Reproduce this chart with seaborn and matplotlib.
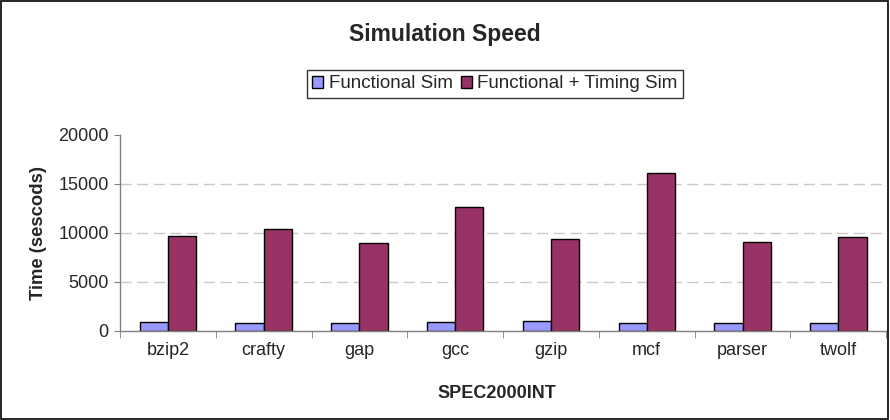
import matplotlib
matplotlib.use('Agg')
import matplotlib.pyplot as plt
from matplotlib.patches import Rectangle
import pandas as pd
import seaborn as sns

benchmarks = ['bzip2', 'crafty', 'gap', 'gcc', 'gzip', 'mcf', 'parser', 'twolf']
functional_sim = [920, 790, 790, 920, 1060, 790, 790, 790]
timing_sim = [9660, 10410, 8950, 12620, 9390, 16060, 9080, 9530]
series_names = ['Functional Sim', 'Functional + Timing Sim']
y_ticks = [0, 5000, 10000, 15000, 20000]
colors = ['#9999FF', '#993366']

df = pd.DataFrame({
    'bench': benchmarks * 2,
    'time': functional_sim + timing_sim,
    'series': [series_names[0]] * len(benchmarks) + [series_names[1]] * len(benchmarks),
})

sns.set_style('white')
plt.rcParams['font.family'] = ['Liberation Sans', 'DejaVu Sans']

fig = plt.figure(figsize=(8.9, 4.2), dpi=100)
ax = fig.add_axes([0.1348, 0.212, 0.861, 0.467])

sns.barplot(data=df, x='bench', y='time', hue='series', order=benchmarks,
            hue_order=series_names, palette=colors, saturation=1,
            width=0.59, gap=0, edgecolor='black', linewidth=1, ax=ax,
            errorbar=None, legend=False)

ax.set_ylim(0, 20000)
ax.set_xlim(-0.5, len(benchmarks) - 0.5)
ax.set_yticks(y_ticks)
ax.set_yticklabels([str(v) for v in y_ticks], fontsize=13)
ax.set_xticks(range(len(benchmarks)))
ax.set_xticklabels(benchmarks, fontsize=13)
ax.set_xticks([i - 0.5 for i in range(len(benchmarks) + 1)], minor=True)
ax.tick_params(axis='x', which='major', length=0, pad=8)
ax.tick_params(axis='x', which='minor', length=5, color='#808080', direction='out', bottom=True)
ax.tick_params(axis='y', length=4, color='#808080', direction='out', left=True, pad=4)

# dashed gridlines, only the inner ones
for v in y_ticks[1:4]:
    ax.axhline(v, color='#c8c8c8', linestyle=(0, (8, 4)), linewidth=1, zorder=0)

for side in ['top', 'right']:
    ax.spines[side].set_visible(False)
for side in ['left', 'bottom']:
    ax.spines[side].set_color('#808080')
    ax.spines[side].set_linewidth(1)

ax.set_xlabel('SPEC2000INT', fontsize=13, fontweight='bold')
ax.xaxis.set_label_coords(0.492, -0.274)
ax.set_ylabel('Time (sescods)', fontsize=13.3, fontweight='bold', labelpad=8)

fig.text(0.5, 0.917, 'Simulation Speed', ha='center', va='center',
         fontsize=16.5, fontweight='bold')

handles = [Rectangle((0, 0), 1, 1, facecolor=c, edgecolor='black', linewidth=1)
           for c in colors]
leg = fig.legend(handles, series_names, loc='center', bbox_to_anchor=(0.5562, 0.80),
                 ncol=2, fontsize=13.5, frameon=True, fancybox=False,
                 handlelength=0.6, handleheight=0.6, handletextpad=0.3,
                 columnspacing=0.4, borderpad=0.3, borderaxespad=0)
leg.get_frame().set_edgecolor('black')
leg.get_frame().set_linewidth(1)

# outer chart border
fig.patches.append(Rectangle((0.001, 0.002), 0.997, 0.996, transform=fig.transFigure,
                             fill=False, edgecolor='black', linewidth=1.2))

fig.savefig('out.png', dpi=100)
